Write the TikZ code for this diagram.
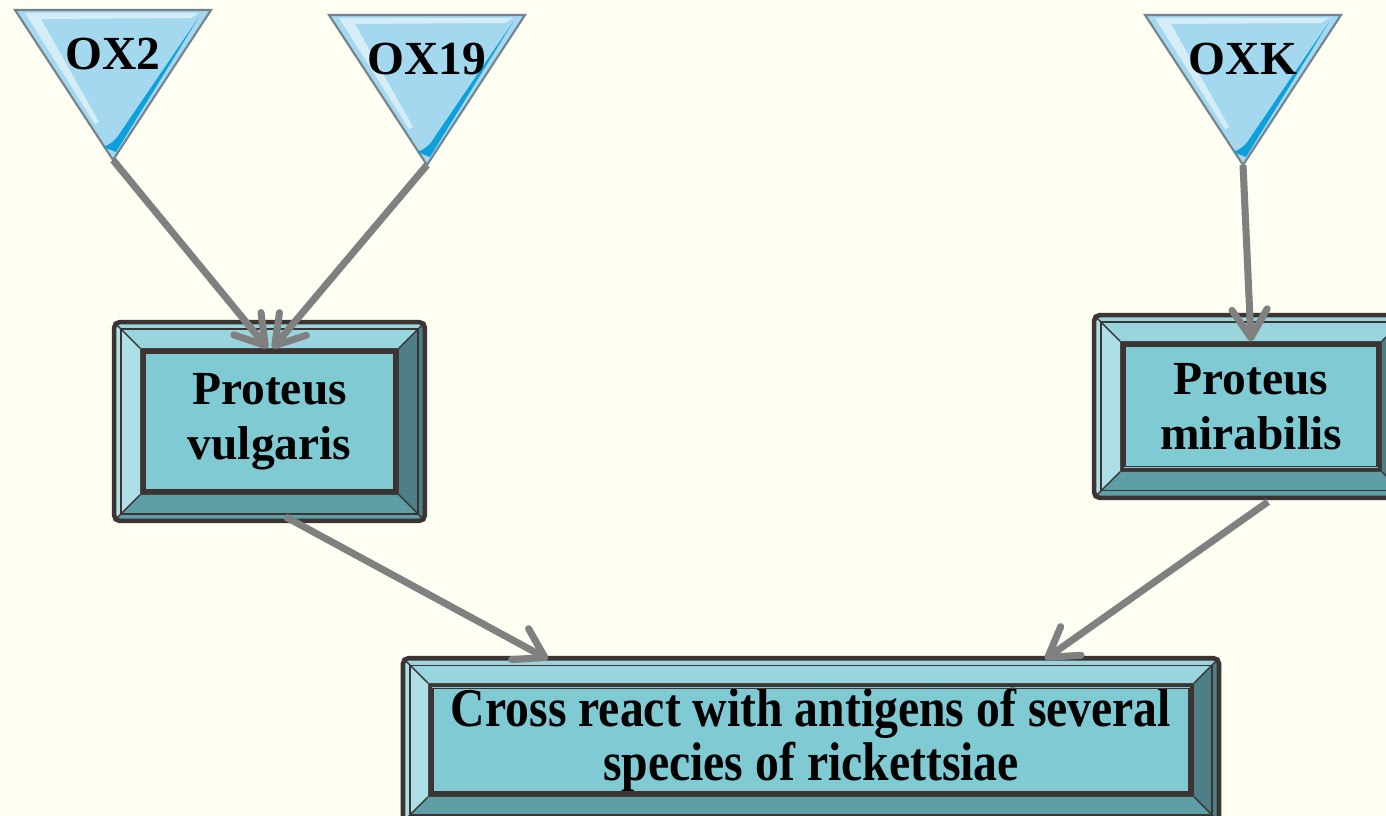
\documentclass[tikz,border=0pt]{standalone}
\usepackage{fontspec}
\setmainfont{Liberation Serif}
\newfontfamily\narrowserif[FakeStretch=0.875]{Liberation Serif}
\usetikzlibrary{arrows.meta, calc}
\definecolor{bgcream}{RGB}{254,254,242}
\definecolor{panelcol}{RGB}{127,202,211}
\definecolor{bevtopcol}{RGB}{152,213,223}
\definecolor{bevleftcol}{RGB}{174,223,231}
\definecolor{bevrightcol}{RGB}{79,127,134}
\definecolor{bevbotcol}{RGB}{94,159,167}
\definecolor{framedark}{RGB}{59,52,51}
\definecolor{trifill}{RGB}{164,216,239}
\definecolor{triedge}{RGB}{118,130,140}
\definecolor{streakblue}{RGB}{14,160,221}
\definecolor{arrowgray}{RGB}{128,128,128}

% bevelled frame round a named panel node: #1 node, #2 width of the bevel
\newcommand{\bevelframe}[2]{%
  \fill[bevtopcol] ($(#1.north west)+(-#2,-#2)$) -- ($(#1.north east)+(#2,-#2)$) -- (#1.north east) -- (#1.north west) -- cycle;
  \fill[bevrightcol] ($(#1.north east)+(#2,-#2)$) -- ($(#1.south east)+(#2,#2)$) -- (#1.south east) -- (#1.north east) -- cycle;
  \fill[bevbotcol] ($(#1.south east)+(#2,#2)$) -- ($(#1.south west)+(-#2,#2)$) -- (#1.south west) -- (#1.south east) -- cycle;
  \fill[bevleftcol] ($(#1.south west)+(-#2,#2)$) -- ($(#1.north west)+(-#2,-#2)$) -- (#1.north west) -- (#1.south west) -- cycle;
  \draw[framedark, line width=0.4pt] ($(#1.north west)+(-#2+7,-#2+7)$) rectangle ($(#1.south east)+(#2-7,#2-7)$);
  \draw[framedark, line width=0.4pt] ($(#1.north west)+(-#2,-#2)$) -- (#1.north west)
    ($(#1.north east)+(#2,-#2)$) -- (#1.north east)
    ($(#1.south east)+(#2,#2)$) -- (#1.south east)
    ($(#1.south west)+(-#2,#2)$) -- (#1.south west);
  \draw[framedark, line width=1.3pt, rounded corners=1.5pt] ($(#1.north west)+(-#2,-#2)$) rectangle ($(#1.south east)+(#2,#2)$);
  \draw[framedark, line width=0.4pt] ($(#1.north west)+(5,5)$) rectangle ($(#1.south east)+(-5,-5)$);
}

% downward triangle with its label: #1 name, #2 centre x, #3 top y, #4 label
\newcommand{\antitri}[4]{%
  \begin{scope}[shift={(#2,#3)}]
    \draw[tri] (-98,0) -- (98,0) -- (0,150) -- cycle;
    \fill[white, opacity=0.55] (-88,3) -- (86,3) -- (78,8) -- (-72,9) -- (-14,112) -- (-18,114) -- cycle;
    \fill[streakblue] (86,7) -- (3,142) -- (-10,137) .. controls (-3,135) and (3,130) .. (7,123) -- cycle;
    \node[trilabel] (#1) at (0,44) {#4};
    \coordinate (#1tip) at (0,150);
  \end{scope}
}

\begin{document}
\begin{tikzpicture}[
    x=0.01cm, y=-0.01cm,
    tri/.style={fill=trifill, draw=triedge, line width=0.6pt, line join=miter},
    trilabel/.style={font=\bfseries\fontsize{13.5}{15.6}\selectfont, inner sep=0pt},
    panel/.style={fill=panelcol, draw=framedark, line width=1pt, inner sep=0pt, align=center,
      font=\bfseries\fontsize{13.5}{15.6}\selectfont},
    widepanel/.style={panel, font=\narrowserif\bfseries\fontsize{15.5}{13.8}\selectfont},
    arr/.style={-{Straight Barb[length=8pt, width=10pt, round]}, draw=arrowgray, line width=2pt}
]
\useasboundingbox (0,0) rectangle (1386,816);
\fill[bgcream] (0,0) rectangle (1386,816);
\clip (0,0) rectangle (1386,816);

% antigens
\antitri{ox2}{113}{10}{OX2}
\antitri{ox19}{427}{15}{OX19}
\antitri{oxk}{1243}{15}{OXK}

% organisms and result
\node[panel, minimum width=2.55cm, minimum height=1.43cm] (vulgaris) at (269.5,421.5) {Proteus\\vulgaris};
\node[panel, minimum width=2.58cm, minimum height=1.27cm] (mirabilis) at (1251,406.5) {Proteus\\mirabilis};
\node[widepanel, minimum width=7.62cm, minimum height=1.10cm] (cross) at (811,740) {Cross react with antigens of several\\species of rickettsiae};
\bevelframe{vulgaris}{26}
\bevelframe{mirabilis}{26}
\bevelframe{cross}{25}

\draw[arr] (ox2tip) -- ($(vulgaris.north)+(-2,0)$);
\draw[arr] (ox19tip) -- ($(vulgaris.north)+(3,0)$);
\draw[arr] (oxktip) -- (mirabilis.north);
\draw[arr] ($(vulgaris.south)+(16,22)$) -- ($(cross.north)+(-263,-24)$);
\draw[arr] ($(mirabilis.south)+(17,30)$) -- ($(cross.north)+(234,-24)$);
\end{tikzpicture}
\end{document}
